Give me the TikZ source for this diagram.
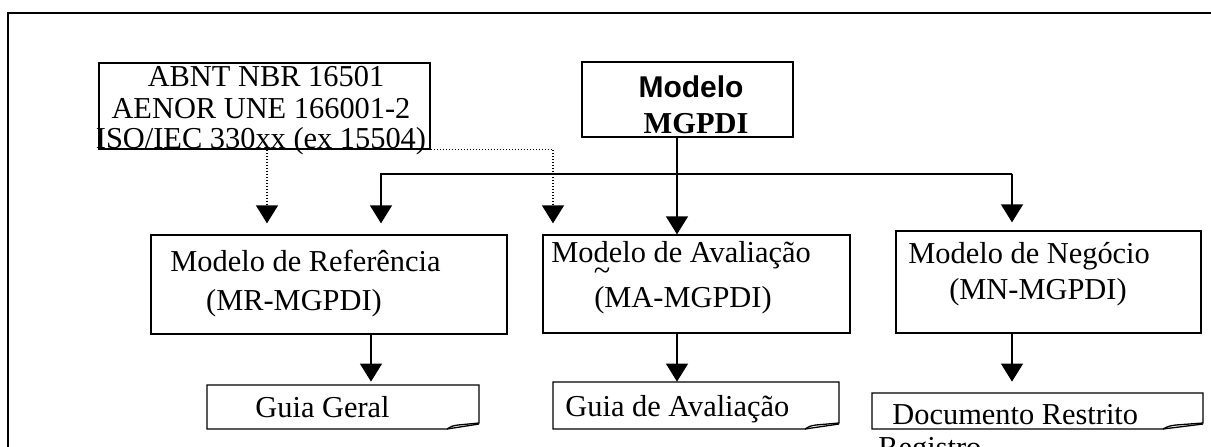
\documentclass[tikz,border=0pt]{standalone}
\usepackage{fontspec}
\setmainfont{Liberation Serif}
\newfontfamily\arialfont{Liberation Sans}
\usetikzlibrary{arrows.meta,calc}
\begin{document}
\begin{tikzpicture}[x=0.5pt,y=-0.5pt,
  box/.style={draw, line width=0.65pt, inner sep=0pt, rectangle},
  anchorbox/.style={draw=none, inner sep=0pt, rectangle},
  lbl/.style={inner sep=0pt, font=\fontsize{15.2pt}{18pt}\selectfont},
  conn/.style={line width=0.65pt, -{Triangle[length=9pt,width=11pt]}},
  dconn/.style={line width=0.65pt, dash pattern=on 0.5pt off 1pt, -{Triangle[length=9pt,width=11pt]}},
  docline/.style={line width=0.65pt, line join=miter},
  frameline/.style={line width=1.1pt}]
\useasboundingbox (0,0) rectangle (1211,446);
\clip (0,0) rectangle (1211,446);
\fill[white] (0,0) rectangle (1211,446);
% outer frame
\draw[frameline] (8,13) rectangle (1230,470);

% boxes
\node[box, minimum width=165.5pt, minimum height=43pt] (abnt) at (264.5,106) {};
\node[box, minimum width=105.5pt, minimum height=37.5pt] (mgpdi) at (687.5,99.5) {};
\node[box, minimum width=178pt, minimum height=49.5pt] (mr) at (329,284.5) {};
\node[box, minimum width=153.5pt, minimum height=49pt] (ma) at (696.5,284) {};
\node[box, minimum width=152.5pt, minimum height=51pt] (mn) at (1048.5,282) {};

% document shapes (anchors)
\node[anchorbox, minimum width=136pt, minimum height=22pt] (gg) at (343,407) {};
\node[anchorbox, minimum width=143pt, minimum height=23.5pt] (ga) at (696,405.5) {};
\node[anchorbox, minimum width=165.5pt, minimum height=18.5pt] (dr) at (1037.5,411.5) {};

\draw[docline] (207,385) -- (479,385) -- (479,423) -- (458,425) .. controls (452,426) .. (447,429) -- (207,429) -- cycle;
\draw[docline] (447,429) -- (479,424);
\draw[docline] (553,382) -- (839,382) -- (839,423) -- (816,425) .. controls (810,426) .. (805,429) -- (553,429) -- cycle;
\draw[docline] (805,429) -- (839,424);
\draw[docline] (872,393) -- (1203,393) -- (1203,423) -- (1176,425) .. controls (1169,426) .. (1163,429) -- (872,429) -- cycle;
\draw[docline] (1163,429) -- (1203,424);

% texts
\node[lbl, anchor=base] (t1) at (266,86) {ABNT NBR 16501};
\node[lbl, anchor=base] (t2) at (261,118) {AENOR UNE 166001-2};
\node[lbl, anchor=base] (t3) at (261,148) {ISO/IEC 330xx (ex 15504)};
\node[lbl, anchor=base, font=\arialfont\bfseries\fontsize{15pt}{18pt}\selectfont] (t4) at (691,97) {Modelo};
\node[lbl, anchor=base, font=\bfseries\fontsize{15.2pt}{18pt}\selectfont] (t5) at (696,133) {MGPDI};
\node[lbl, anchor=base west] (t6) at (170,271) {Modelo de Referência};
\node[lbl, anchor=base] (t7) at (294,310) {(MR-MGPDI)};
\node[lbl, anchor=base west] (t8) at (551,262) {Modelo de Avaliação};
\node[lbl, anchor=center] (t8b) at (602,274) {\~{}};
\node[lbl, anchor=base] (t9) at (683,307) {(MA-MGPDI)};
\node[lbl, anchor=base west] (t10) at (908,263) {Modelo de Negócio};
\node[lbl, anchor=base] (t11) at (1038,299) {(MN-MGPDI)};
\node[lbl, anchor=base west] (t12) at (255,417) {Guia Geral};
\node[lbl, anchor=base west] (t13) at (565,416) {Guia de Avaliação};
\node[lbl, anchor=base west] (t14) at (892,424) {Documento Restrito};
\node[lbl, anchor=base west] (t15) at (878,457) {Registro};

% connectors
\coordinate (xj) at (677,0);
\coordinate (busL) at (381,174);
\coordinate (busR) at (1012,174);
\coordinate (d1) at (267,0);
\coordinate (d2) at (553,0);
\coordinate (x1) at (371,0);
\draw[conn] (mgpdi.south -| xj) -- (ma.north -| xj);
\draw[conn, shorten >=5.5pt] (busR) -- (busL) -- (mr.north -| busL);
\draw[conn, shorten >=4pt] (busR) -- (mn.north -| busR);
\draw[dconn, shorten >=5.5pt] (abnt.south -| d1) -- (mr.north -| d1);
\draw[dconn, shorten >=5.5pt] (abnt.south east) -- (abnt.south east -| d2) -- (ma.north -| d2);
\draw[conn, shorten >=1.5pt] (mr.south -| x1) -- (gg.north -| x1);
\draw[conn] (ma.south -| xj) -- (ga.north -| xj);
\draw[conn, shorten >=5.5pt] (mn.south -| busR) -- (dr.north -| busR);
\end{tikzpicture}
\end{document}
